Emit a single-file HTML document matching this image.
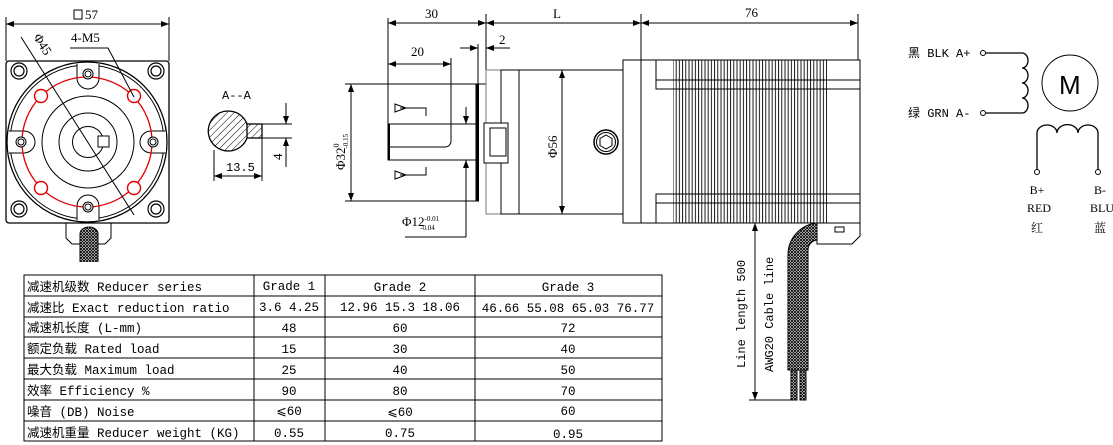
<!DOCTYPE html>
<html><head><meta charset="utf-8"><style>
html,body{margin:0;padding:0;background:#fff;}
svg{display:block;}
text{font-family:"Liberation Serif","Noto Serif CJK SC",serif;fill:#000;}
text.m,.m text{font-family:"Liberation Mono","Noto Sans CJK SC",monospace;}
</style></head><body>
<svg width="1113" height="445" viewBox="0 0 1113 445" xmlns="http://www.w3.org/2000/svg">
<defs>
<pattern id="fins" width="3.2" height="10" patternUnits="userSpaceOnUse"><line x1="1" y1="0" x2="1" y2="10" stroke="#000" stroke-width="0.9"/></pattern>
<pattern id="mesh" width="3" height="3" patternUnits="userSpaceOnUse"><rect width="3" height="3" fill="#fff"/><path d="M0 0L3 3M3 0L0 3" stroke="#000" stroke-width="0.9"/></pattern>
<pattern id="hatch" width="5" height="5" patternUnits="userSpaceOnUse" patternTransform="rotate(45)"><line x1="0" y1="0" x2="0" y2="5" stroke="#000" stroke-width="1"/></pattern>
<marker id="ar" markerWidth="8" markerHeight="6" refX="8" refY="3" orient="auto-start-reverse" markerUnits="userSpaceOnUse"><path d="M0 0L8 3L0 6z" fill="#000"/></marker>
</defs>
<g fill="none" stroke="#000" stroke-width="1">
<!-- FRONT VIEW -->
<line x1="6" y1="17" x2="6" y2="61"/><line x1="169" y1="17" x2="169" y2="61"/>
<line x1="6" y1="24" x2="169" y2="24" marker-start="url(#ar)" marker-end="url(#ar)"/>
<rect x="74" y="10" width="8" height="9"/>
<rect x="6" y="61" width="163" height="162" rx="3" stroke-width="1.3"/>
<circle cx="87" cy="142" r="80" stroke-width="1.3"/><circle cx="87" cy="142" r="77"/>
<circle cx="88" cy="142" r="46"/><circle cx="88" cy="142" r="29"/><circle cx="88" cy="142" r="15.5"/>
<rect x="98" y="136" width="11" height="11" fill="#fff"/>
<g stroke-width="1.2">
<circle cx="19" cy="71" r="8"/><circle cx="19" cy="71" r="5"/>
<circle cx="156" cy="71" r="8"/><circle cx="156" cy="71" r="5"/>
<circle cx="19" cy="209" r="8"/><circle cx="19" cy="209" r="5"/>
<circle cx="156" cy="209" r="8"/><circle cx="156" cy="209" r="5"/>
</g>
<path d="M77 64V78A11 11 0 0 0 99 78V64" fill="#fff"/>
<path d="M77 220V206A11 11 0 0 1 99 206V220" fill="#fff"/>
<path d="M9 131H24A11 11 0 0 1 24 153H9" fill="#fff"/>
<path d="M166 131H151A11 11 0 0 0 151 153H166" fill="#fff"/>
<circle cx="87" cy="142" r="65" stroke="#e00000" stroke-width="1.3"/>
<g stroke="#e00000" stroke-width="1.4" fill="#fff">
<circle cx="41" cy="96" r="6.5"/><circle cx="134" cy="96" r="6.5"/><circle cx="41" cy="188" r="6.5"/><circle cx="134" cy="188" r="6.5"/>
</g>
<circle cx="88" cy="74" r="5" fill="#fff"/><circle cx="88" cy="74" r="3"/>
<circle cx="88" cy="207" r="5" fill="#fff"/><circle cx="88" cy="207" r="3"/>
<circle cx="21" cy="142" r="5" fill="#fff"/><circle cx="21" cy="142" r="3"/>
<circle cx="153" cy="142" r="5" fill="#fff"/><circle cx="153" cy="142" r="3"/>
<line x1="21" y1="37" x2="134" y2="215"/>
<polyline points="70,48 108,48 134,97"/>
<path d="M66 223V238L72 244H105L111 238V223"/>
<path d="M80 262V234A9 7 0 0 1 98 234V262" fill="url(#mesh)"/>
<!-- A-A SECTION -->
<path d="M247 124A20 20 0 1 0 247 138" fill="url(#hatch)" stroke-width="1.3"/>
<rect x="247" y="124" width="15" height="14" fill="url(#hatch)" stroke-width="1.3"/>
<line x1="214" y1="150" x2="214" y2="181"/><line x1="262" y1="138" x2="262" y2="181"/>
<line x1="214" y1="176" x2="262" y2="176" marker-start="url(#ar)" marker-end="url(#ar)"/>
<line x1="262" y1="124" x2="292" y2="124"/><line x1="262" y1="138" x2="292" y2="138"/>
<line x1="286" y1="103" x2="286" y2="124" marker-end="url(#ar)"/>
<line x1="286" y1="167" x2="286" y2="138" marker-end="url(#ar)"/>
<!-- SIDE VIEW dims -->
<line x1="388" y1="18" x2="388" y2="124"/><line x1="486" y1="14" x2="486" y2="70"/>
<line x1="641" y1="14" x2="641" y2="60"/><line x1="858" y1="14" x2="858" y2="60"/>
<line x1="388" y1="23" x2="486" y2="23" marker-start="url(#ar)" marker-end="url(#ar)"/>
<line x1="486" y1="23" x2="641" y2="23" marker-start="url(#ar)" marker-end="url(#ar)"/>
<line x1="641" y1="23" x2="858" y2="23" marker-start="url(#ar)" marker-end="url(#ar)"/>
<line x1="451" y1="58" x2="451" y2="124"/>
<line x1="388" y1="64" x2="451" y2="64" marker-start="url(#ar)" marker-end="url(#ar)"/>
<line x1="478" y1="44" x2="478" y2="84"/>
<line x1="460" y1="48" x2="478" y2="48" marker-end="url(#ar)"/>
<line x1="510" y1="48" x2="486" y2="48" marker-end="url(#ar)"/>
<line x1="345" y1="84" x2="486" y2="84"/><line x1="345" y1="201" x2="478" y2="201"/>
<line x1="351" y1="84" x2="351" y2="201" marker-start="url(#ar)" marker-end="url(#ar)"/>
<!-- shaft -->
<rect x="388" y="124" width="90" height="36"/>
<path d="M389 124V147H445A6 6 0 0 0 451 141V124" />
<line x1="389" y1="124" x2="389" y2="160" stroke-width="2"/>
<rect x="476" y="84" width="2.5" height="117" fill="#000"/>
<!-- section markers -->
<path d="M395 104L406 108L395 112Z"/><polyline points="400,108 426,108 426,116"/>
<path d="M395 171L406 175L395 179Z"/><polyline points="400,175 426,175 426,167"/>
<!-- phi12 -->
<line x1="466" y1="107" x2="466" y2="124" marker-end="url(#ar)"/>
<line x1="466" y1="237" x2="466" y2="160" marker-end="url(#ar)"/>
<line x1="405" y1="237" x2="466" y2="237"/>
<!-- gearbox -->
<rect x="486" y="70" width="15" height="144" stroke="#777"/>
<rect x="501" y="70" width="122" height="144"/>
<line x1="519" y1="70" x2="519" y2="214"/>
<rect x="484" y="123" width="24" height="40" fill="#fff"/>
<rect x="490" y="128" width="16" height="28"/>
<line x1="562" y1="70" x2="562" y2="214" marker-start="url(#ar)" marker-end="url(#ar)"/>
<circle cx="606" cy="142" r="12" stroke-width="1.5"/><circle cx="606" cy="142" r="9.5"/>
<path d="M606 135L612 138.5V145.5L606 149L600 145.5V138.5Z"/>
<!-- motor -->
<rect x="623" y="60" width="237" height="163"/>
<line x1="641" y1="60" x2="641" y2="223"/>
<rect x="673" y="60" width="154" height="163" fill="url(#fins)" stroke="none"/>
<polyline points="656,60 656,89 860,89"/><line x1="656" y1="80" x2="860" y2="80"/>
<polyline points="656,223 656,194 860,194"/><line x1="656" y1="203" x2="860" y2="203"/>
<!-- cable -->
<path d="M788 370V255A32 32 0 0 1 817 223V240A10 10 0 0 0 808 250V370Z" fill="url(#mesh)"/>
<path d="M817 223H860V236L852 244H817Z" fill="#fff"/>
<rect x="835" y="227" width="9" height="5"/>
<rect x="791" y="370" width="6" height="30" fill="url(#mesh)"/>
<rect x="800" y="370" width="6" height="30" fill="url(#mesh)"/>
<line x1="755" y1="223" x2="755" y2="400" marker-start="url(#ar)" marker-end="url(#ar)"/>
<line x1="749" y1="400" x2="795" y2="400"/>
<!-- wiring -->
<circle cx="983" cy="53" r="2.5"/><circle cx="983" cy="113" r="2.5"/>
<path d="M986 53H1022A6 7.5 0 0 1 1022 68A6 7.5 0 0 1 1022 83A6 7.5 0 0 1 1022 98A6 7.5 0 0 1 1022 113H986" stroke-width="1.3"/>
<circle cx="1070" cy="83" r="28"/>
<path d="M1037 170V133A10 8 0 0 1 1057 133A10 8 0 0 1 1078 133A10 8 0 0 1 1098 133V170" stroke-width="1.3"/>
<circle cx="1037" cy="172" r="2.5"/><circle cx="1098" cy="172" r="2.5"/>
<!-- table -->
<rect x="24" y="275" width="638" height="166"/>
<g>
<line x1="24" y1="296" x2="662" y2="296"/><line x1="24" y1="317" x2="662" y2="317"/>
<line x1="24" y1="337" x2="662" y2="337"/><line x1="24" y1="358" x2="662" y2="358"/>
<line x1="24" y1="379" x2="662" y2="379"/><line x1="24" y1="400" x2="662" y2="400"/>
<line x1="24" y1="421" x2="662" y2="421"/>
<line x1="254" y1="275" x2="254" y2="441"/><line x1="325" y1="275" x2="325" y2="441"/><line x1="475" y1="275" x2="475" y2="441"/>
</g>
</g>
<!-- texts -->
<g font-size="13">
<text x="85" y="19">57</text>
<text x="71" y="42">4-M5</text>
<text x="0" y="0" transform="translate(33,37) rotate(58)">Φ45</text>
<text x="222" y="99" class="m" font-size="12">A--A</text>
<text x="226" y="171" class="m" font-size="12">13.5</text>
<text x="0" y="0" transform="translate(282,160) rotate(-90)">4</text>
<text x="425" y="18">30</text>
<text x="553" y="18">L</text>
<text x="745" y="17">76</text>
<text x="411" y="56">20</text>
<text x="499" y="44">2</text>
<text transform="translate(345,170) rotate(-90)">Φ32<tspan font-size="8" dy="-6">0</tspan><tspan font-size="7" dx="-5" dy="9">-0.15</tspan></text>
<text transform="translate(557,158) rotate(-90)">Φ56</text>
<text x="402" y="226">Φ12<tspan font-size="7" dy="-5">-0.01</tspan><tspan font-size="7" dx="-19" dy="9">-0.04</tspan></text>
<text class="m" font-size="12" transform="translate(745,368) rotate(-90)">Line length 500</text>
<text class="m" font-size="12" transform="translate(773,372) rotate(-90)">AWG20 Cable line</text>
<text x="908" y="57" class="m" font-size="12">黑 BLK A+</text>
<text x="908" y="117" class="m" font-size="12">绿 GRN A-</text>
<text x="1059" y="94" style="font-family:'Liberation Sans',sans-serif" font-size="26">M</text>
<text x="1037" y="194" text-anchor="middle" font-size="12">B+</text>
<text x="1039" y="212" text-anchor="middle" font-size="12">RED</text>
<text x="1037" y="232" text-anchor="middle" font-size="12">红</text>
<text x="1100" y="194" text-anchor="middle" font-size="12">B-</text>
<text x="1102" y="212" text-anchor="middle" font-size="12">BLU</text>
<text x="1100" y="232" text-anchor="middle" font-size="12">蓝</text>
</g>
<g class="m" font-size="12.5">
<text x="27" y="291">减速机级数 Reducer series</text>
<text x="27" y="312">减速比 Exact reduction ratio</text>
<text x="27" y="332">减速机长度 (L-mm)</text>
<text x="27" y="353">额定负载 Rated load</text>
<text x="27" y="374">最大负载 Maximum load</text>
<text x="27" y="395">效率 Efficiency %</text>
<text x="27" y="416">噪音 (DB) Noise</text>
<text x="27" y="437">减速机重量 Reducer weight (KG)</text>
<g text-anchor="middle">
<text x="289" y="290">Grade 1</text><text x="400" y="291">Grade 2</text><text x="568" y="291">Grade 3</text>
<text x="289" y="311">3.6 4.25</text><text x="400" y="311">12.96 15.3 18.06</text><text x="568" y="312">46.66 55.08 65.03 76.77</text>
<text x="289" y="332">48</text><text x="400" y="332">60</text><text x="568" y="332">72</text>
<text x="289" y="353">15</text><text x="400" y="353">30</text><text x="568" y="353">40</text>
<text x="289" y="374">25</text><text x="400" y="374">40</text><text x="568" y="374">50</text>
<text x="289" y="395">90</text><text x="400" y="395">80</text><text x="568" y="395">70</text>
<text x="289" y="415">⩽60</text><text x="400" y="416">⩽60</text><text x="568" y="415">60</text>
<text x="289" y="437">0.55</text><text x="400" y="437">0.75</text><text x="568" y="438">0.95</text>
</g>
</g>
</svg>
</body></html>
